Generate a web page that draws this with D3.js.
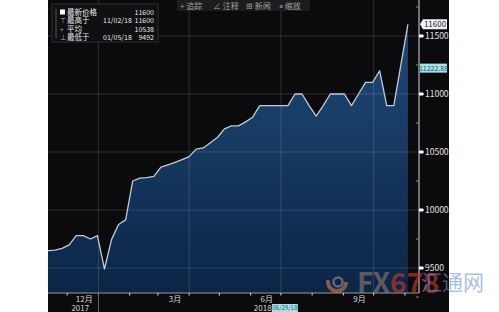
<!DOCTYPE html>
<html>
<head>
<meta charset="utf-8">
<script src="https://cdn.jsdelivr.net/npm/d3@7"></script>
<style>
  body { margin: 0; background: #fff; }
  svg { display: block; }
  text { font-family: "Noto Sans CJK SC", "Noto Sans", sans-serif; }
</style>
</head>
<body>
<svg id="chart-svg"></svg>
<script>
// weekly closes (Fridays)
const weekDates = [
  "2017-11-10", "2017-11-17", "2017-11-24", "2017-12-01", "2017-12-08", "2017-12-15",
  "2017-12-22", "2017-12-29", "2018-01-05", "2018-01-12", "2018-01-19", "2018-01-26",
  "2018-02-02", "2018-02-09", "2018-02-16", "2018-02-23", "2018-03-02", "2018-03-09",
  "2018-03-16", "2018-03-23", "2018-03-30", "2018-04-06", "2018-04-13", "2018-04-20",
  "2018-04-27", "2018-05-04", "2018-05-11", "2018-05-18", "2018-05-25", "2018-06-01",
  "2018-06-08", "2018-06-15", "2018-06-22", "2018-06-29", "2018-07-06", "2018-07-13",
  "2018-07-20", "2018-07-27", "2018-08-03", "2018-08-10", "2018-08-17", "2018-08-24",
  "2018-08-31", "2018-09-07", "2018-09-14", "2018-09-21", "2018-09-28", "2018-10-05",
  "2018-10-12", "2018-10-19", "2018-10-26", "2018-11-02",
];
const weekValues = [
  9650, 9655, 9670, 9700, 9780, 9780,
  9750, 9780, 9492, 9745, 9875, 9915,
  10250, 10275, 10280, 10290, 10370, 10390,
  10410, 10435, 10460, 10525, 10535, 10580,
  10625, 10700, 10725, 10725, 10760, 10800,
  10900, 10900, 10900, 10900, 10900, 11000,
  11000, 10900, 10810, 10900, 11000, 11000,
  11000, 10900, 11000, 11100, 11100, 11200,
  10900, 10900, 11250, 11600,
];
const yTicks = [9500, 10000, 10500, 11000, 11500];
const yMinorTicks = [9250, 9750, 10250, 10750, 11250, 11750];
const monthLabels = [
  { date: "2017-12-16", text: "12月" },
  { date: "2018-03-16", text: "3月" },
  { date: "2018-06-15", text: "6月" },
  { date: "2018-09-15", text: "9月" },
];
const yearLabels = [
  { date: "2017-12-12", text: "2017" },
  { date: "2018-06-11", text: "2018" },
];
const quarterLines = ["2018-01-01", "2018-04-01", "2018-07-01", "2018-10-01"];
const legendRows = [
  { icon: "", label: "最新价格", date: "", value: "11600" },
  { icon: "⊤", label: "最高于", date: "11/02/18", value: "11600" },
  { icon: "+", label: "平均", date: "", value: "10538" },
  { icon: "⊥", label: "最低于", date: "01/05/18", value: "9492" },
];
const toolItems = ["+ 追踪", "∠ 注释", "⊞ 新闻", "⌕ 缩放"];
const lastValue = 11600;
const avgLineValue = 11222.88;
const cursorDate = "2018-06-29";

const parse = d3.timeParse("%Y-%m-%d");
const data = weekDates.map((d, i) => ({ date: parse(d), value: weekValues[i] }));

const svgWidth = 499;
const svgHeight = 312;
const p_left = 48;
const p_right = 419;
const p_top = 0;
const p_bottom = 293;

const svg = d3.select("#chart-svg").attr("width", svgWidth).attr("height", svgHeight);

// black terminal panel
svg.append("rect").attr("x", 48).attr("y", 0).attr("width", 401).attr("height", svgHeight)
  .attr("fill", "#0b0b0d");

const x = d3.scaleTime()
  .domain([parse("2017-11-10"), parse("2018-11-13")])
  .range([p_left, p_right]);
const y = d3.scaleLinear().domain([9285, 11810]).range([p_bottom, p_top]);

const defs = svg.append("defs");
const grad = defs.append("linearGradient").attr("id", "areaGrad")
  .attr("x1", 0).attr("y1", 0).attr("x2", 0).attr("y2", 1);
grad.append("stop").attr("offset", "0%").attr("stop-color", "#1f4a78");
grad.append("stop").attr("offset", "100%").attr("stop-color", "#0b2546");

const area = d3.area().x((d) => x(d.date)).y0(p_bottom).y1((d) => y(d.value));
const line = d3.line().x((d) => x(d.date)).y((d) => y(d.value));

svg.append("path").datum(data).attr("d", area).attr("fill", "url(#areaGrad)");

// grid
svg.append("g").selectAll("line").data(yTicks).join("line")
  .attr("x1", p_left).attr("x2", p_right)
  .attr("y1", (d) => y(d)).attr("y2", (d) => y(d))
  .attr("stroke", "rgba(255,255,255,0.14)").attr("stroke-width", 1);
svg.append("g").selectAll("line").data(quarterLines).join("line")
  .attr("x1", (d) => x(parse(d)) - 2).attr("x2", (d) => x(parse(d)) - 2)
  .attr("y1", p_top).attr("y2", p_bottom)
  .attr("stroke", "rgba(255,255,255,0.14)").attr("stroke-width", 1);

svg.append("path").datum(data).attr("d", line)
  .attr("fill", "none").attr("stroke", "#c3cad3").attr("stroke-width", 1.3)
  .attr("stroke-linejoin", "round");

// right axis
svg.append("line").attr("x1", p_right).attr("x2", p_right).attr("y1", 0).attr("y2", p_bottom)
  .attr("stroke", "#d8d8d8").attr("stroke-width", 1);
const yAxis = svg.append("g");
yAxis.selectAll("path.tk").data(yTicks).join("path").attr("class", "tk")
  .attr("d", (d) => `M${p_right},${y(d) - 1.5}L${p_right + 4},${y(d) - 1.5}L${p_right + 5},${y(d)}L${p_right + 4},${y(d) + 1.5}L${p_right},${y(d) + 1.5}Z`)
  .attr("fill", "#fff");
yAxis.selectAll("line.mn").data(yMinorTicks).join("line").attr("class", "mn")
  .attr("x1", p_right - 3).attr("x2", p_right)
  .attr("y1", (d) => y(d)).attr("y2", (d) => y(d))
  .attr("stroke", "#888");
yAxis.selectAll("text").data(yTicks).join("text")
  .attr("x", p_right + 6).attr("y", (d) => y(d) + 3)
  .attr("font-size", 8.5).attr("fill", "#e0e0e0")
  .text((d) => d);

// last value flag
const yl = y(lastValue);
svg.append("path")
  .attr("d", `M${p_right + 1},${yl}L${p_right + 4},${yl - 5}L${p_right + 28},${yl - 5}L${p_right + 28},${yl + 5}L${p_right + 4},${yl + 5}Z`)
  .attr("fill", "#f2f2f2");
svg.append("text").attr("x", p_right + 16).attr("y", yl + 3).attr("text-anchor", "middle")
  .attr("font-size", 8).attr("fill", "#222").text(lastValue);

const ya = y(avgLineValue);
svg.append("rect").attr("x", p_right + 1).attr("y", ya - 4.5).attr("width", 27).attr("height", 9)
  .attr("fill", "#a8e2e6");
svg.append("text").attr("x", p_right + 14.5).attr("y", ya + 2.5).attr("text-anchor", "middle")
  .attr("font-size", 7).attr("fill", "#1d5c7c").text(avgLineValue.toFixed(2));

// bottom axis
svg.append("line").attr("x1", p_left).attr("x2", p_right).attr("y1", p_bottom).attr("y2", p_bottom)
  .attr("stroke", "#9a9a9a").attr("stroke-width", 1.2);
const months = d3.timeMonth.range(parse("2017-12-01"), parse("2018-11-02"));
svg.append("g").selectAll("line").data(months).join("line")
  .attr("x1", (d) => x(d) - 2).attr("x2", (d) => x(d) - 2)
  .attr("y1", p_bottom).attr("y2", p_bottom + 2.5)
  .attr("stroke", "#ddd").attr("stroke-width", 1);
svg.append("line").attr("x1", x(parse("2018-01-01")) - 2).attr("x2", x(parse("2018-01-01")) - 2)
  .attr("y1", p_bottom).attr("y2", svgHeight).attr("stroke", "#666");
svg.append("g").selectAll("text").data(monthLabels).join("text")
  .attr("x", (d) => x(parse(d.date))).attr("y", p_bottom + 9)
  .attr("text-anchor", "middle").attr("font-size", 8).attr("fill", "#d8d8d8")
  .text((d) => d.text);
svg.append("g").selectAll("text").data(yearLabels).join("text")
  .attr("x", (d) => x(parse(d.date))).attr("y", p_bottom + 18)
  .attr("text-anchor", "middle").attr("font-size", 8).attr("fill", "#d8d8d8")
  .text((d) => d.text);
const xc = x(parse(cursorDate)) + 4;
svg.append("rect").attr("x", xc - 13).attr("y", 304).attr("width", 26).attr("height", 8)
  .attr("fill", "#a8e2e6");
svg.append("text").attr("x", xc).attr("y", 310).attr("text-anchor", "middle")
  .attr("font-size", 6).attr("fill", "#1d5c7c").text("06/29/18");

// toolbar
const tb = svg.append("g");
tb.append("rect").attr("x", 177).attr("y", 0).attr("width", 133).attr("height", 11)
  .attr("fill", "#1c1c1e");
tb.selectAll("text").data(toolItems).join("text")
  .attr("x", (d, i) => 180 + i * 33).attr("y", 8.5)
  .attr("font-size", 8).attr("fill", "#a0a0a0")
  .text((d) => d);

// legend
const lg = svg.append("g");
lg.append("rect").attr("x", 52).attr("y", 4).attr("width", 106).attr("height", 38)
  .attr("fill", "#101012").attr("stroke", "#2e2e30");
lg.append("line").attr("x1", 56).attr("x2", 56).attr("y1", 9).attr("y2", 38)
  .attr("stroke", "#555");
const rows = lg.selectAll("g").data(legendRows).join("g")
  .attr("transform", (d, i) => `translate(0, ${15 + i * 8.3})`);
rows.filter((d, i) => i === 0).append("rect")
  .attr("x", 60).attr("y", -5.5).attr("width", 5).attr("height", 5).attr("fill", "#fff");
rows.append("text").attr("x", 60).attr("font-size", 6.5)
  .attr("fill", "#aaa").text((d) => d.icon);
rows.append("text").attr("x", 67).attr("font-size", 7.5).attr("fill", "#e8e8e8")
  .text((d) => d.label);
rows.append("text").attr("x", 103).attr("font-size", 7).attr("fill", "#e8e8e8")
  .text((d) => d.date);
rows.append("text").attr("x", 154).attr("text-anchor", "end").attr("font-size", 7)
  .attr("fill", "#e8e8e8").text((d) => d.value);

// watermark
const wm = svg.append("g");
wm.append("circle").attr("cx", 337).attr("cy", 282).attr("r", 9)
  .attr("fill", "none").attr("stroke", "rgba(200,120,70,0.65)").attr("stroke-width", 4)
  .attr("stroke-dasharray", "30 27");
wm.append("circle").attr("cx", 338).attr("cy", 282).attr("r", 4.5)
  .attr("fill", "none").attr("stroke", "rgba(150,150,160,0.6)").attr("stroke-width", 2.5);
wm.append("text").attr("x", 357).attr("y", 293)
  .attr("font-family", "'Liberation Sans Narrow', 'Liberation Sans', sans-serif")
  .attr("font-size", 28).attr("font-weight", "bold")
  .call((t) => {
    t.append("tspan").attr("fill", "rgba(150,125,105,0.6)").text("FX");
    t.append("tspan").attr("fill", "rgba(200,55,45,0.65)").text("678");
  });
wm.append("text").attr("x", 421).attr("y", 290)
  .attr("font-size", 21).attr("fill", "rgba(115,145,210,0.6)")
  .text("汇通网");
</script>
</body>
</html>
